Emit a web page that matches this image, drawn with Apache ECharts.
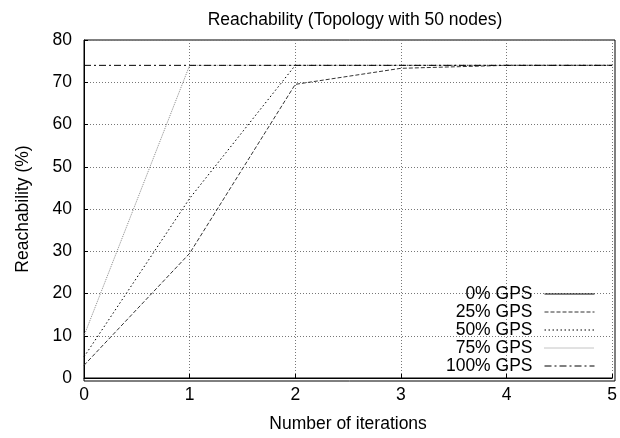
<!DOCTYPE html>
<html>
<head>
<meta charset="utf-8">
<script src="https://cdn.jsdelivr.net/npm/echarts@6/dist/echarts.min.js"></script>
<style>
  html, body { margin: 0; padding: 0; background: #fff; }
  #chart { width: 620px; height: 438px; }
</style>
</head>
<body>
<div id="chart"></div>
<script>
const iterations = [0, 1, 2, 3, 4, 5]
// 0% GPS sits on the x axis (hidden under the border)
const gps0   = [0, 0, 0, 0, 0, 0]
const gps25  = [3, 29.5, 69.5, 73.3, 74, 74]
const gps50  = [5, 42.5, 74, 74, 74, 74]
const gps75  = [10, 74, 74, 74, 74, 74]
const gps100 = [74, 74, 74, 74, 74, 74]
const seriesNames = ['0% GPS', '25% GPS', '50% GPS', '75% GPS', '100% GPS']

const font = 'Liberation Sans, Arial, sans-serif'
const pairs = vals => iterations.map((x, i) => [x, vals[i]])

const styles = [
  { color: '#000', type: 'solid' },
  { color: '#333', type: [4, 2] },
  { color: '#000', type: [1.5, 2.5] },
  { color: '#888', type: [1, 1] },
  { color: '#000', type: [7, 3, 2, 3] },
]
const data = [gps0, gps25, gps50, gps75, gps100]

const chart = echarts.init(document.getElementById('chart'))
chart.setOption({
  animation: false,
  textStyle: { fontFamily: font },
  title: {
    text: 'Reachability (Topology with 50 nodes)',
    left: 350, top: 6, textAlign: 'center',
    textStyle: { fontSize: 17.5, fontWeight: 'normal', color: '#000', fontFamily: font },
  },
  grid: { left: 84, right: 5, top: 40, bottom: 57 },
  xAxis: {
    type: 'value', min: 0, max: 5, interval: 1,
    name: 'Number of iterations', nameLocation: 'middle', nameGap: 37,
    nameTextStyle: { fontSize: 17.5, color: '#000' },
    axisLine: { lineStyle: { color: '#000', width: 1 } },
    axisTick: { inside: true, length: 4, lineStyle: { color: '#000' } },
    axisLabel: { fontSize: 17.5, color: '#000', margin: 8 },
    splitLine: { show: true, lineStyle: { color: '#777', type: [1, 2] } },
  },
  yAxis: {
    type: 'value', min: 0, max: 80, interval: 10,
    name: 'Reachability (%)', nameLocation: 'middle', nameGap: 52,
    nameTextStyle: { fontSize: 17.5, color: '#000' },
    axisLine: { show: true, lineStyle: { color: '#000', width: 1 } },
    axisTick: { show: true, inside: true, length: 4, lineStyle: { color: '#000' } },
    axisLabel: { fontSize: 17.5, color: '#000', margin: 12 },
    splitLine: { show: true, lineStyle: { color: '#777', type: [1, 2] } },
  },
  legend: {
    orient: 'vertical', right: 20, bottom: 58, align: 'right',
    itemWidth: 50, itemHeight: 14, itemGap: 0,
    itemStyle: { opacity: 0 },
    lineStyle: { width: 1 },
    textStyle: { fontSize: 17.5, color: '#000', padding: [0, 7, 0, 0] },
    data: seriesNames,
  },
  series: seriesNames.map((name, i) => ({
    name, type: 'line', symbol: 'none',
    data: pairs(data[i]),
    lineStyle: { width: 1, color: styles[i].color, type: styles[i].type },
    itemStyle: { color: styles[i].color },
  })),
  graphic: [{
    type: 'rect', shape: { x: 84, y: 40, width: 531, height: 341 },
    style: { fill: 'none', stroke: '#000', lineWidth: 1 }, silent: true,
  }],
})
</script>
</body>
</html>
